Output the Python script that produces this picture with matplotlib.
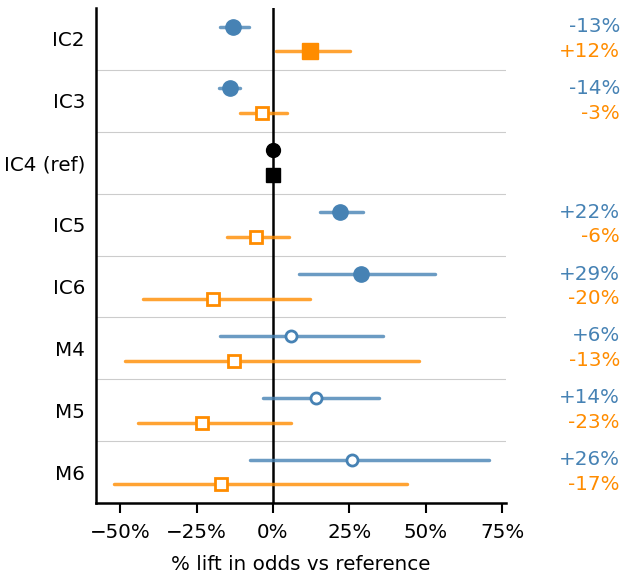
import matplotlib
matplotlib.use("Agg")
import matplotlib.pyplot as plt
from matplotlib.ticker import FuncFormatter

categories = ["IC2", "IC3", "IC4 (ref)", "IC5", "IC6", "M4", "M5", "M6"]

blue_est = [-13, -14, 0, 22, 29, 6, 14, 26]
blue_lo = [-17.3, -17.8, 0, 15.5, 8.5, -17.4, -3.4, -7.5]
blue_hi = [-7.8, -10.8, 0, 29.5, 52.9, 35.9, 34.6, 70.7]
blue_sig = [True, True, None, True, True, False, False, False]

orange_est = [12, -3.5, 0, -5.5, -19.6, -12.6, -23.1, -16.9]
orange_lo = [1.0, -10.7, 0, -15.1, -42.4, -48.4, -44.1, -52.1]
orange_hi = [25.3, 4.7, 0, 5.2, 12.1, 47.9, 5.9, 43.8]
orange_sig = [True, False, None, False, False, False, False, False]

blue_labels = ["-13%", "-14%", "", "+22%", "+29%", "+6%", "+14%", "+26%"]
orange_labels = ["+12%", "-3%", "", "-6%", "-20%", "-13%", "-23%", "-17%"]

BLUE = "#4682B4"
ORANGE = "#FF8C00"
FS = 14.3

fig = plt.figure(figsize=(6.26, 5.76), dpi=100)
ax = fig.add_axes([96 / 626, 1 - 503 / 576, 410 / 626, 495 / 576])

off = 0.2
for i, cat in enumerate(categories):
    yb = i - off
    yo = i + off
    if blue_sig[i] is None:
        ax.plot([blue_est[i]], [yb], marker="o", ms=10, color="black", zorder=5)
        ax.plot([orange_est[i]], [yo], marker="s", ms=9.5, color="black", zorder=5)
        continue
    ax.plot([blue_lo[i], blue_hi[i]], [yb, yb], color=BLUE, lw=2.5, alpha=0.8,
            solid_capstyle="round", zorder=3)
    ax.plot([orange_lo[i], orange_hi[i]], [yo, yo], color=ORANGE, lw=2.5, alpha=0.8,
            solid_capstyle="round", zorder=3)
    if blue_sig[i]:
        ax.plot([blue_est[i]], [yb], marker="o", ms=11, color=BLUE, zorder=5)
    else:
        ax.plot([blue_est[i]], [yb], marker="o", ms=8, mfc="white", mec=BLUE,
                mew=2, zorder=5)
    if orange_sig[i]:
        ax.plot([orange_est[i]], [yo], marker="s", ms=11, color=ORANGE, zorder=5)
    else:
        ax.plot([orange_est[i]], [yo], marker="s", ms=8, mfc="white", mec=ORANGE,
                mew=2, zorder=5)
    ax.text(1.278, yb, blue_labels[i], transform=ax.get_yaxis_transform(),
            ha="right", va="center", color=BLUE, fontsize=FS)
    ax.text(1.278, yo, orange_labels[i], transform=ax.get_yaxis_transform(),
            ha="right", va="center", color=ORANGE, fontsize=FS)

for k in range(len(categories) - 1):
    ax.axhline(k + 0.5, color="#cccccc", lw=0.8, zorder=1)

ax.axvline(0, color="black", lw=1.8, zorder=2)

ax.set_xlim(-57.9, 76.3)
ax.set_ylim(len(categories) - 0.5, -0.5)
ax.set_yticks(range(len(categories)))
ax.set_yticklabels(categories, fontsize=FS)
ax.tick_params(axis="y", length=0, pad=8)
ax.set_xticks([-50, -25, 0, 25, 50, 75])
ax.xaxis.set_major_formatter(FuncFormatter(lambda v, p: f"{int(v)}%".replace("-", "\u2212")))
ax.tick_params(axis="x", labelsize=FS, length=7, width=1.5, pad=7.5)
ax.set_xlabel("% lift in odds vs reference", fontsize=FS, labelpad=9)
for s in ["top", "right"]:
    ax.spines[s].set_visible(False)
for s in ["left", "bottom"]:
    ax.spines[s].set_linewidth(1.8)

fig.savefig("out.png", dpi=100)
